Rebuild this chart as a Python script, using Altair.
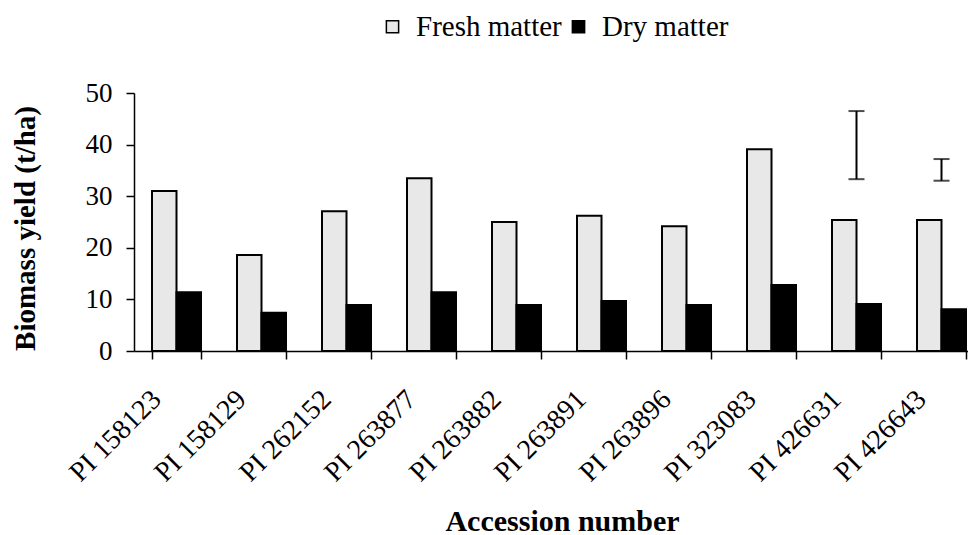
import altair as alt
import pandas as pd

accessions = ["PI 158123", "PI 158129", "PI 262152", "PI 263877", "PI 263882",
              "PI 263891", "PI 263896", "PI 323083", "PI 426631", "PI 426643"]
fresh = [31.0, 18.6, 27.1, 33.5, 25.0, 26.2, 24.2, 39.1, 25.4, 25.4]
dry = [11.4, 7.4, 8.9, 11.4, 8.9, 9.7, 8.9, 12.8, 9.1, 8.1]
series = ["Fresh matter", "Dry matter"]

err_acc = ["PI 426631", "PI 426643"]
err_low = [33.3, 33.0]
err_high = [46.5, 37.2]

rows = []
for a, f, d in zip(accessions, fresh, dry):
    rows.append({"acc": a, "type": series[0], "value": f})
    rows.append({"acc": a, "type": series[1], "value": d})
df = pd.DataFrame(rows)
err = pd.DataFrame({"acc": err_acc, "low": err_low, "high": err_high})

FONT = "Liberation Serif, Times New Roman, serif"

x = alt.X("acc:N", sort=accessions,
          scale=alt.Scale(range=[0, 850], paddingInner=0.4235, paddingOuter=0.21175),
          axis=alt.Axis(title="Accession number", labelAngle=-45, labelFontSize=28,
                        labelFont=FONT, labelColor="black", titleFont=FONT,
                        titleFontSize=30, titleFontWeight="bold", titleColor="black",
                        tickBand="extent", tickSize=8, tickColor="black",
                        domainColor="black", domainWidth=1.5, tickWidth=1.5,
                        labelPadding=26, labelOffset=-30, titleX=428, titleY=179,
                        titleBaseline="alphabetic", titleAnchor="start", titleAlign="center"))

bars = alt.Chart(df).mark_bar(stroke="black", strokeWidth=2).encode(
    x=x,
    xOffset=alt.XOffset("type:N", sort=series),
    y=alt.Y("value:Q", scale=alt.Scale(domain=[0, 50]),
            axis=alt.Axis(title="Biomass yield (t/ha)", values=[0, 10, 20, 30, 40, 50],
                          grid=False, labelFontSize=27, labelFont=FONT, labelColor="black",
                          titleFont=FONT, titleFontSize=29, titleFontWeight="bold",
                          titleColor="black", tickSize=8, tickColor="black",
                          domainColor="black", domainWidth=1.5, tickWidth=1.5,
                          labelPadding=14, titleX=-109, titleY=135, titleAngle=270,
                          titleAlign="center", titleBaseline="middle")),
    color=alt.Color("type:N", sort=series,
                    scale=alt.Scale(domain=series, range=["#e8e8e8", "black"]),
                    legend=alt.Legend(title=None, orient="none", direction="horizontal",
                                      legendX=244, legendY=-81, symbolType="square",
                                      symbolSize=150, symbolStrokeColor="black",
                                      symbolStrokeWidth=1.5, labelFont=FONT,
                                      labelFontSize=29, labelColor="black",
                                      columnPadding=2, labelOffset=9, padding=0)),
)

rules = alt.Chart(err).mark_rule(color="black", strokeWidth=2).encode(
    x=alt.X("acc:N", sort=accessions), y="low:Q", y2="high:Q")
cap_low = alt.Chart(err).mark_tick(color="black", thickness=2, size=16).encode(
    x=alt.X("acc:N", sort=accessions), y="low:Q")
cap_high = alt.Chart(err).mark_tick(color="black", thickness=2, size=16).encode(
    x=alt.X("acc:N", sort=accessions), y="high:Q")

chart = alt.layer(bars, rules, cap_low, cap_high).properties(
    width=834, height=258,
    autosize=alt.AutoSizeParams(type="none"),
    padding={"left": 126, "top": 85, "right": 0, "bottom": 184},
).configure(font=FONT).configure_view(stroke=None).configure_axisY(grid=False)

chart.save("out.html", embed_options={"renderer": "svg", "actions": False})
